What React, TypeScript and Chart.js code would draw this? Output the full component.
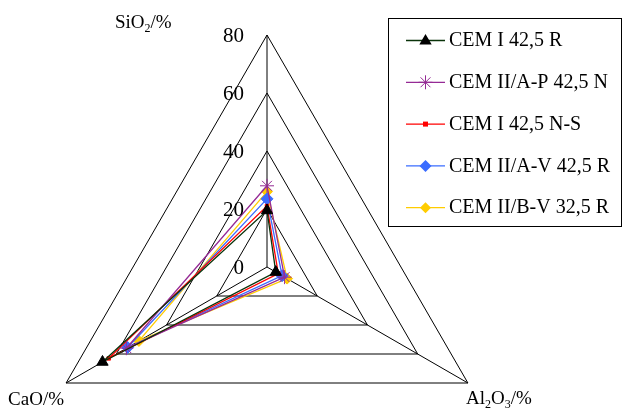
import React, { useEffect, useRef } from 'react';
import { Chart, registerables } from 'chart.js';

Chart.register(...registerables);

// ---- data ----
const axisLabels = ['SiO2/%', 'Al2O3/%', 'CaO/%'];
const tickValues = [0, 20, 40, 60, 80];
const seriesNames = [
  'CEM I 42,5 R',
  'CEM II/A-P 42,5 N',
  'CEM I 42,5 N-S',
  'CEM II/A-V 42,5 R',
  'CEM II/B-V 32,5 R',
];
const cemI425R = [19.5, 3.5, 65.5];
const cemIIAP425N = [28, 7, 56];
const cemI425NS = [21, 4.5, 63];
const cemIIAV425R = [23.5, 6, 55.5];
const cemIIBV325R = [26, 8, 51];
const seriesValues = [cemI425R, cemIIAP425N, cemI425NS, cemIIAV425R, cemIIBV325R];

// ---- styles ----
const lineColors = ['#0a330a', '#952a95', '#ff0000', '#3a6cff', '#ffcc00'];
const markerColors = ['#000000', '#952a95', '#ff0000', '#3a6cff', '#ffcc00'];
const markerStyles = ['triangle', 'star', 'rect', 'rectRot', 'rectRot'];
const markerRadius = [6.5, 7, 2.5, 6, 5.5];

const FONT = '"Liberation Serif", "Times New Roman", serif';

function drawMarker(ctx: CanvasRenderingContext2D, style: string, x: number, y: number, r: number, color: string) {
  ctx.save();
  ctx.fillStyle = color;
  ctx.strokeStyle = color;
  ctx.lineWidth = 1;
  ctx.beginPath();
  if (style === 'triangle') {
    ctx.moveTo(x, y - r);
    ctx.lineTo(x + r * 0.95, y + r * 0.6);
    ctx.lineTo(x - r * 0.95, y + r * 0.6);
    ctx.closePath();
    ctx.fill();
  } else if (style === 'star') {
    for (let k = 0; k < 4; k++) {
      const a = (k * Math.PI) / 4;
      ctx.moveTo(x - Math.cos(a) * r, y - Math.sin(a) * r);
      ctx.lineTo(x + Math.cos(a) * r, y + Math.sin(a) * r);
    }
    ctx.stroke();
  } else if (style === 'rect') {
    ctx.rect(x - r, y - r, 2 * r, 2 * r);
    ctx.fill();
  } else {
    ctx.moveTo(x, y - r);
    ctx.lineTo(x + r, y);
    ctx.lineTo(x, y + r);
    ctx.lineTo(x - r, y);
    ctx.closePath();
    ctx.fill();
  }
  ctx.restore();
}

function drawSubText(ctx: CanvasRenderingContext2D, text: string, x: number, y: number, size: number) {
  const parts = text.split(/(\d)/).filter((p) => p.length > 0);
  let cx = x;
  ctx.textBaseline = 'alphabetic';
  ctx.textAlign = 'left';
  for (const p of parts) {
    const sub = /^\d$/.test(p);
    ctx.font = `${sub ? Math.round(size * 0.65) : size}px ${FONT}`;
    ctx.fillText(p, cx, sub ? y + size * 0.22 : y);
    cx += ctx.measureText(p).width;
  }
}

const geometryPlugin = {
  id: 'fixGeometry',
  afterLayout(chart: any) {
    const s = chart.scales.r;
    s.xCenter = 267;
    s.yCenter = 267;
    s.drawingArea = 232;
  },
};

const decorPlugin = {
  id: 'decor',
  afterDraw(chart: any) {
    const ctx: CanvasRenderingContext2D = chart.ctx;
    const s = chart.scales.r;
    ctx.save();
    ctx.fillStyle = '#000';
    // tick labels along the top axis
    ctx.font = `21px ${FONT}`;
    ctx.textAlign = 'right';
    ctx.textBaseline = 'middle';
    for (const v of tickValues) {
      const p = s.getPointPositionForValue(0, v);
      ctx.fillText(String(v), p.x - 23, p.y + 1);
    }
    // axis titles
    const top = s.getPointPositionForValue(0, 80);
    const br = s.getPointPositionForValue(1, 80);
    const bl = s.getPointPositionForValue(2, 80);
    drawSubText(ctx, axisLabels[0], top.x - 152, top.y - 7, 19);
    drawSubText(ctx, axisLabels[1], br.x - 2, br.y + 21, 19);
    drawSubText(ctx, axisLabels[2], bl.x - 58, bl.y + 22, 19);

    // legend
    ctx.strokeStyle = '#000';
    ctx.lineWidth = 1;
    ctx.strokeRect(388.5, 18.5, 233, 208);
    ctx.font = `20px ${FONT}`;
    ctx.textAlign = 'left';
    ctx.textBaseline = 'middle';
    seriesNames.forEach((name, i) => {
      const y = 40 + i * 41.8;
      ctx.strokeStyle = lineColors[i];
      ctx.lineWidth = 1.3;
      ctx.beginPath();
      ctx.moveTo(406, y + 0.5);
      ctx.lineTo(445, y + 0.5);
      ctx.stroke();
      drawMarker(ctx, markerStyles[i], 425.5, y + 0.5, markerRadius[i], markerColors[i]);
      ctx.fillStyle = '#000';
      ctx.fillText(name, 449, y + 1);
    });
    ctx.restore();
  },
};

export default function App() {
  const ref = useRef<HTMLCanvasElement | null>(null);
  useEffect(() => {
    document.body.style.margin = '0';
    const canvas = ref.current;
    if (!canvas) return;
    const chart = new Chart(canvas, {
      type: 'radar',
      data: {
        labels: axisLabels,
        datasets: seriesNames.map((name, i) => ({
          label: name,
          data: seriesValues[i],
          borderColor: lineColors[i],
          backgroundColor: markerColors[i],
          pointBackgroundColor: markerColors[i],
          pointBorderColor: markerColors[i],
          pointStyle: markerStyles[i] as any,
          pointRadius: markerRadius[i],
          pointBorderWidth: 1,
          borderWidth: 1.3,
          fill: false,
        })),
      },
      options: {
        responsive: false,
        animation: false,
        layout: { padding: 0 },
        plugins: { legend: { display: false }, tooltip: { enabled: false } },
        scales: {
          r: {
            min: 0,
            max: 80,
            ticks: { display: false, stepSize: 20 },
            grid: { color: '#000', lineWidth: 1 },
            angleLines: { color: '#000', lineWidth: 1 },
            pointLabels: { display: false },
          },
        },
      },
      plugins: [geometryPlugin, decorPlugin],
    });
    return () => chart.destroy();
  }, []);
  return <canvas ref={ref} width={622} height={410} style={{ display: 'block' }} />;
}
